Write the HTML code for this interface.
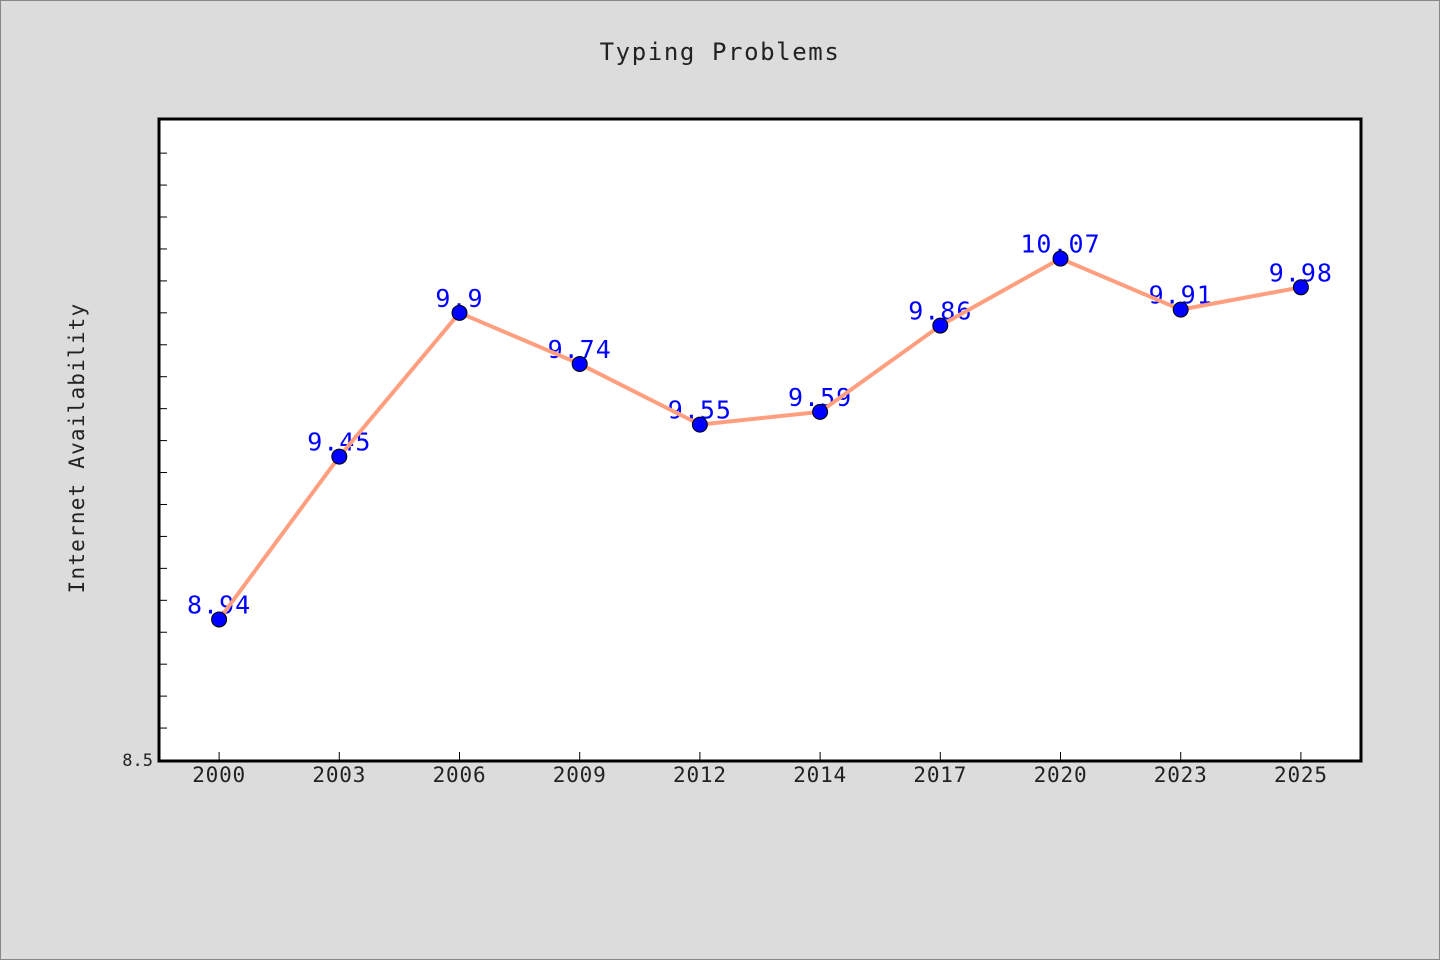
<!DOCTYPE html>
<html><head><meta charset="utf-8"><style>
body{margin:0;background:#dcdcdc;}
svg{display:block;font-family:"DejaVu Sans Mono","Liberation Mono",monospace;}
</style></head><body>
<svg id="c" width="1440" height="960">
<rect x="0.5" y="0.5" width="1439" height="959" fill="#dcdcdc" stroke="#888"/>
<text x="720" y="60" text-anchor="middle" font-size="24" letter-spacing="1.6" fill="#222">Typing Problems</text>
<text transform="translate(84,448) rotate(-90)" text-anchor="middle" font-size="21" fill="#222" letter-spacing="1.2">Internet Availability</text>
<rect x="159" y="119" width="1202" height="642" fill="#fff" stroke="#000" stroke-width="3"/>
<g id="g"></g>
</svg>
<script>
const categories=["2000","2003","2006","2009","2012","2014","2017","2020","2023","2025"];
const values=[8.94,9.45,9.9,9.74,9.55,9.59,9.86,10.07,9.91,9.98];
const yTickLabels=["8.5"];
const X0=159,X1=1361,Y0=760,Y1=118,YMIN=8.5,YMAX=10.51;
const step=(X1-X0)/categories.length;
function xs(i){return X0+step*(i+0.5);}
function ys(v){return Y0-(v-YMIN)/(YMAX-YMIN)*(Y0-Y1);}
const g=document.getElementById('g');const NS="http://www.w3.org/2000/svg";
function mk(t,a){const e=document.createElementNS(NS,t);for(const k in a)e.setAttribute(k,a[k]);g.appendChild(e);return e;}
for(let v=YMIN+0.1;v<YMAX-0.05;v+=0.1){
 const t=mk('line',{x1:X0,x2:X0+8,y1:ys(v),y2:ys(v),stroke:'#000','stroke-width':1});
 
 
}
yTickLabels.forEach(l=>{
 const t=mk('text',{x:X0-6,y:ys(+l)+6,'text-anchor':'end','font-size':17,fill:'#222'});t.textContent=l;
 
 
});
categories.forEach((c,i)=>{
 const t=mk('line',{x1:xs(i),x2:xs(i),y1:Y0,y2:Y0-8,stroke:'#000'});
 
 
 const l=mk('text',{x:xs(i),y:Y0+22,'text-anchor':'middle','font-size':21,'letter-spacing':0.8,fill:'#222'});l.textContent=c;
 
 
});
values.forEach((v,i)=>{
 const t=mk('text',{x:xs(i),y:ys(v)-6,'text-anchor':'middle','font-size':25,'letter-spacing':1,fill:'#0000ff'});t.textContent=String(v);
 
 
});
const p=mk('polyline',{points:values.map((v,i)=>xs(i)+','+ys(v)).join(' '),fill:'none',stroke:'#ff9f7f','stroke-width':4,'stroke-linejoin':'round'});


values.forEach((v,i)=>{
 const d=mk('circle',{cx:xs(i),cy:ys(v),r:7.5,fill:'#0000ff',stroke:'#000','stroke-width':1});
 
 
});
</script>
</body></html>
